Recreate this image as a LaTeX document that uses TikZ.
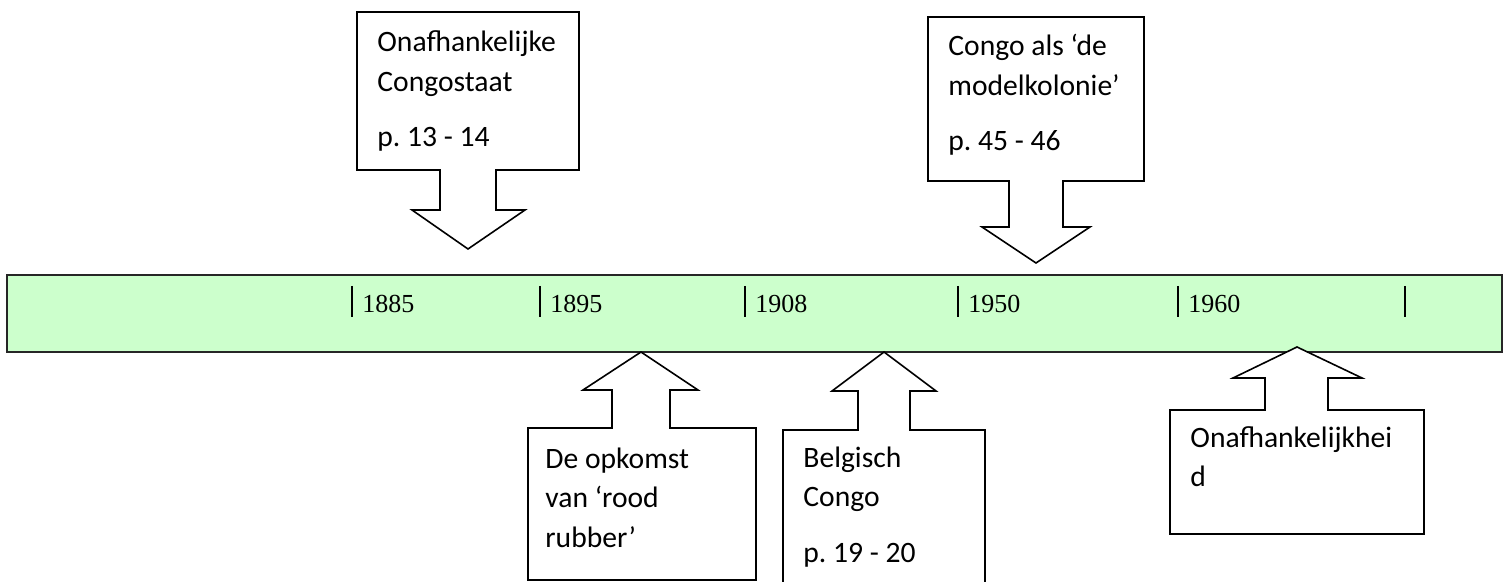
\documentclass[tikz,border=0pt]{standalone}
\usepackage{fontspec}
\setmainfont{Carlito}
\newfontfamily\yearfont{Liberation Serif}
\definecolor{barGreen}{HTML}{CCFFCC}
\frenchspacing

\begin{document}
\begin{tikzpicture}[x=0.5pt, y=-0.5pt,
    callout/.style={draw, line width=0.8pt, fill=white, line join=miter},
    boxtext/.style={anchor=base west, align=left, inner sep=0pt, font=\fontsize{14.8}{19.75}\selectfont},
    year/.style={anchor=base west, inner sep=0pt, font=\yearfont\fontsize{13}{15}\selectfont},
    tick/.style={line width=1.1pt}]
    \useasboundingbox (0,0) rectangle (1510,582);
    \clip (0,0) rectangle (1510,582);

    % Timeline bar
    \draw[fill=barGreen, line width=1pt, draw=black!85] (7,275) rectangle (1502,352);

    % Years on the bar
    \draw[tick] (352,286) -- (352,317);
    \draw[tick] (540,286) -- (540,317);
    \draw[tick] (745,286) -- (745,317);
    \draw[tick] (958,286) -- (958,317);
    \draw[tick] (1178,286) -- (1178,317);
    \draw[tick] (1405,286) -- (1405,317);

    \node[year] (y1885) at (362,313) {1885};
    \node[year] (y1895) at (550,313) {1895};
    \node[year] (y1908) at (755,313) {1908};
    \node[year] (y1950) at (968,313) {1950};
    \node[year] (y1960) at (1188,313) {1960};

    % Callouts above the bar (text placed at the baseline of its last line)
    \draw[callout] (357,12) -- (579,12) -- (579,170) -- (496,170) -- (496,210) -- (525,210)
        -- (468,249) -- (412,210) -- (440,210) -- (440,170) -- (357,170) -- cycle;
    \node[boxtext] (congostaat) at (377,147) {Onafhankelijke\\Congostaat\\[8pt]p. 13 - 14};

    \draw[callout] (928,17) -- (1144,17) -- (1144,181) -- (1063,181) -- (1063,227) -- (1090,227)
        -- (1036,263) -- (982,227) -- (1009,227) -- (1009,181) -- (928,181) -- cycle;
    \node[boxtext] (modelkolonie) at (948,151) {Congo als ‘de\\modelkolonie’\\[8pt]p. 45 - 46};

    % Callouts below the bar
    \draw[callout] (641,352) -- (698,390) -- (670,390) -- (670,428) -- (756,428) -- (756,580)
        -- (528,580) -- (528,428) -- (612,428) -- (612,390) -- (583,390) -- cycle;
    \node[boxtext] (rubber) at (545,547) {De opkomst\\van ‘rood\\rubber’};

    \draw[callout] (884,352) -- (936,391) -- (910,391) -- (910,430) -- (985,430) -- (985,600)
        -- (783,600) -- (783,430) -- (858,430) -- (858,391) -- (832,391) -- cycle;
    \node[boxtext] (belgisch) at (803,562) {Belgisch\\Congo\\[8pt]p. 19 - 20};

    \draw[callout] (1297,347) -- (1362,378) -- (1328,378) -- (1328,410) -- (1424,410) -- (1424,534)
        -- (1170,534) -- (1170,410) -- (1265,410) -- (1265,378) -- (1233,378) -- cycle;
    \node[boxtext] (onafhankelijkheid) at (1190,487) {Onafhankelijkhei\\d};
\end{tikzpicture}
\end{document}
